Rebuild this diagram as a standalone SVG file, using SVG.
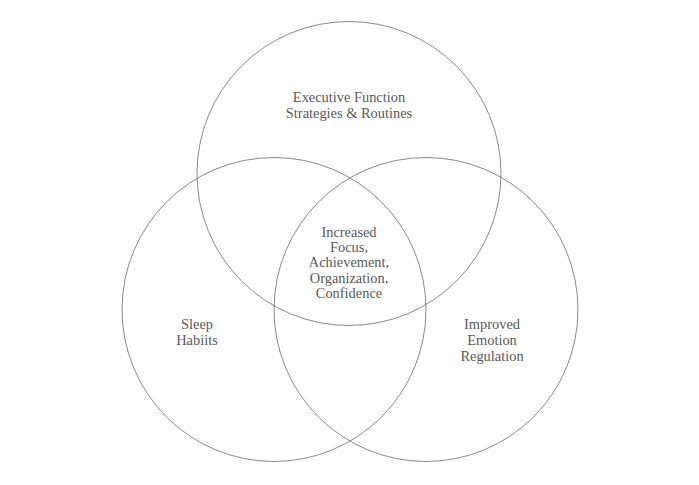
<svg xmlns="http://www.w3.org/2000/svg" width="699" height="485" viewBox="0 0 699 485">
<style>
.c{fill:none;stroke:#6b6b6b;stroke-width:0.8}
.t{font-family:"Liberation Serif","DejaVu Serif",serif;font-size:14.4px;fill:#5a5a5a;text-anchor:middle}
</style>
<rect width="699" height="485" fill="#fff"/>
<g id="top"><circle class="c" cx="349" cy="173.5" r="152"/>
<text class="t" x="349" y="102">Executive Function</text>
<text class="t" x="349" y="118">Strategies &amp; Routines</text></g>
<g id="left"><circle class="c" cx="274" cy="309.5" r="152"/>
<text class="t" x="197" y="329">Sleep</text>
<text class="t" x="197" y="345">Habiits</text></g>
<g id="right"><circle class="c" cx="426" cy="309.5" r="152"/>
<text class="t" x="492" y="329">Improved</text>
<text class="t" x="492" y="345">Emotion</text>
<text class="t" x="492" y="361">Regulation</text></g>
<g id="center">
<text class="t" x="349" y="236.5">Increased</text>
<text class="t" x="349" y="252">Focus,</text>
<text class="t" x="349" y="267">Achievement,</text>
<text class="t" x="349" y="282.5">Organization,</text>
<text class="t" x="349" y="298">Confidence</text></g>
<g id="connectors"></g>
</svg>
